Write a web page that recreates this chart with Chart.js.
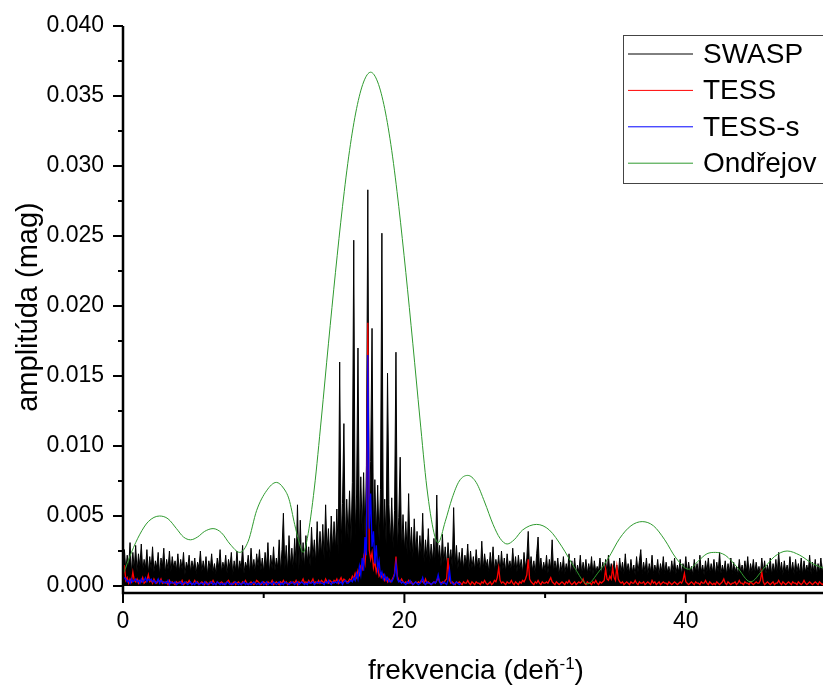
<!DOCTYPE html>
<html>
<head>
<meta charset="utf-8">
<script src="https://cdn.jsdelivr.net/npm/chart.js"></script>
<style>
  body { margin: 0; background: #fff; }
  canvas { display: block; }
</style>
</head>
<body>
<canvas id="chart" width="823" height="686"></canvas>
<script>
// amplitudes in mmag, sampled every 0.1 d^-1 starting at 0
var freqStep = 0.1;

var swaspAmp = [
  1.4, 2.6, 1.1, 2.2, 1.3, 3.1, 0.9, 2.4, 1.2, 2.9,
  1.0, 2.3, 1.4, 3.0, 1.1, 1.9, 1.3, 2.6, 0.9, 2.1,
  1.2, 2.8, 1.0, 1.8, 1.3, 2.4, 0.8, 2.0, 1.4, 2.7,
  0.9, 1.9, 1.2, 2.5, 1.0, 2.1, 1.3, 1.8, 1.1, 2.3,
  1.0, 1.9, 1.2, 2.4, 0.8, 1.7, 1.3, 2.2, 1.0, 1.8,
  1.2, 2.0, 0.9, 1.7, 1.3, 2.5, 1.0, 1.8, 1.1, 2.1,
  0.8, 1.8, 1.2, 2.3, 1.0, 1.6, 0.9, 2.0, 1.3, 2.6,
  1.0, 1.7, 1.2, 2.2, 0.9, 1.9, 1.3, 2.4, 0.8, 1.8,
  1.1, 2.5, 1.0, 1.8, 1.2, 2.9, 0.9, 1.7, 1.3, 2.2,
  0.9, 2.7, 1.2, 1.9, 1.0, 2.3, 1.4, 2.6, 1.1, 2.0,
  1.0, 2.4, 1.3, 3.1, 0.9, 2.2, 1.2, 2.8, 1.1, 2.0,
  1.3, 3.3, 1.0, 2.6, 5.2, 1.2, 2.9, 1.0, 3.6, 1.4,
  2.7, 1.2, 3.4, 1.5, 5.8, 1.1, 4.7, 1.4, 3.1, 1.3,
  3.6, 1.7, 2.8, 1.4, 4.2, 2.0, 3.3, 1.6, 4.6, 1.9,
  3.9, 2.2, 4.4, 1.8, 5.8, 2.4, 4.1, 2.0, 5.0, 2.5,
  4.6, 2.6, 5.5, 2.2, 16.0, 3.0, 5.9, 11.6, 2.8, 6.2,
  3.4, 6.8, 3.0, 7.4, 24.7, 3.6, 6.5, 17.0, 3.3, 7.8,
  3.8, 8.1, 3.5, 8.6, 28.3, 4.0, 8.9, 18.4, 3.7, 7.6,
  3.5, 7.2, 3.2, 6.9, 25.2, 3.4, 6.2, 3.0, 15.2, 5.8,
  3.0, 6.3, 2.7, 5.4, 16.7, 2.6, 4.9, 9.2, 2.4, 5.1,
  2.5, 4.6, 2.2, 6.6, 2.4, 4.2, 2.0, 4.8, 2.3, 3.9,
  1.8, 3.6, 2.1, 5.2, 1.7, 3.3, 2.0, 4.1, 1.6, 3.0,
  1.8, 3.4, 1.5, 6.5, 1.9, 2.9, 1.4, 3.7, 1.6, 2.8,
  1.4, 3.1, 1.7, 2.6, 1.3, 5.6, 1.5, 2.9, 1.2, 2.4,
  1.4, 2.7, 1.2, 2.2, 1.5, 3.0, 1.1, 2.5, 1.3, 2.1,
  1.1, 2.6, 1.4, 2.0, 1.0, 3.2, 1.2, 2.3, 1.4, 1.9,
  1.0, 2.4, 1.3, 2.8, 1.1, 1.9, 1.3, 2.2, 1.0, 2.5,
  1.2, 2.0, 1.0, 2.3, 1.3, 1.8, 1.1, 2.7, 1.2, 2.1,
  1.0, 2.2, 1.2, 1.9, 0.9, 2.4, 1.3, 2.0, 3.9, 1.0,
  2.1, 1.1, 1.8, 0.9, 2.3, 3.5, 1.2, 2.0, 1.0, 1.7,
  1.1, 2.2, 0.9, 1.9, 1.2, 3.3, 1.0, 1.8, 1.1, 2.0,
  0.8, 1.7, 1.0, 2.1, 0.9, 1.6, 1.1, 2.3, 0.8, 1.8,
  1.0, 2.0, 0.8, 1.5, 1.0, 2.2, 0.9, 1.7, 1.0, 1.9,
  0.9, 1.6, 1.0, 2.1, 0.8, 1.8, 1.0, 1.4, 1.1, 2.0,
  0.8, 1.7, 1.0, 1.9, 0.9, 2.2, 1.0, 1.6, 0.8, 1.8,
  1.0, 1.5, 0.8, 2.0, 1.0, 1.7, 0.9, 2.3, 1.0, 1.6,
  0.9, 1.9, 1.0, 1.5, 0.8, 2.1, 1.0, 1.8, 2.6, 0.9,
  1.7, 1.0, 2.0, 0.8, 1.6, 1.0, 2.2, 0.9, 1.5, 1.0,
  1.9, 0.8, 1.6, 1.0, 2.1, 0.9, 1.7, 1.0, 1.4, 0.8,
  1.8, 1.0, 2.0, 0.9, 1.5, 1.0, 1.9, 0.8, 1.6, 1.0,
  2.1, 0.9, 1.7, 1.0, 1.4, 0.8, 1.9, 1.0, 1.6, 0.9,
  2.2, 1.0, 1.5, 0.8, 1.8, 1.0, 2.0, 0.9, 1.6, 1.0,
  1.9, 0.8, 1.7, 1.0, 2.4, 0.9, 1.5, 1.0, 1.8, 0.8,
  1.6, 1.0, 2.0, 0.9, 1.7, 1.0, 1.4, 0.8, 1.9, 1.0,
  1.5, 0.9, 1.8, 1.0, 2.1, 0.8, 1.6, 1.0, 1.9, 0.9,
  1.7, 1.0, 1.4, 0.8, 2.0, 1.0, 1.8, 0.9, 1.5, 1.0,
  2.0, 0.8, 1.6, 1.0, 1.9, 0.9, 2.4, 1.0, 1.7, 0.8,
  1.8, 1.0, 1.5, 0.9, 2.1, 1.0, 1.7, 0.8, 1.9, 1.0,
  1.6, 0.9, 2.0, 0.8, 1.8, 1.0, 1.5, 1.0, 2.2, 0.9,
  1.7, 1.0, 1.9, 0.8, 1.6, 1.0, 2.0, 0.9, 1.8, 1.0,
  1.6
];

var tessAmp = [
  0.3, 1.5, 0.4, 0.6, 0.2, 0.5, 0.3, 1.0, 0.4, 0.3,
  0.5, 0.2, 0.4, 0.3, 0.6, 0.2, 0.3, 0.4, 0.8, 0.3,
  0.4, 0.2, 0.5, 0.3, 0.2, 0.4, 0.3, 0.5, 0.2, 0.3,
  0.2, 0.3, 0.1, 0.4, 0.2, 0.3, 0.2, 0.1, 0.3, 0.2,
  0.3, 0.2, 0.4, 0.1, 0.2, 0.3, 0.2, 0.4, 0.2, 0.1,
  0.2, 0.4, 0.2, 0.3, 0.1, 0.2, 0.3, 0.2, 0.1, 0.3,
  0.2, 0.1, 0.3, 0.2, 0.4, 0.2, 0.1, 0.3, 0.2, 0.2,
  0.3, 0.2, 0.1, 0.2, 0.3, 0.4, 0.2, 0.1, 0.2, 0.3,
  0.1, 0.2, 0.3, 0.2, 0.1, 0.3, 0.2, 0.4, 0.2, 0.1,
  0.2, 0.3, 0.2, 0.1, 0.2, 0.4, 0.3, 0.2, 0.1, 0.2,
  0.3, 0.2, 0.1, 0.3, 0.2, 0.2, 0.4, 0.1, 0.2, 0.3,
  0.2, 0.1, 0.3, 0.2, 0.4, 0.2, 0.3, 0.1, 0.2, 0.3,
  0.2, 0.3, 0.2, 0.4, 0.1, 0.3, 0.2, 0.3, 0.5, 0.2,
  0.3, 0.2, 0.4, 0.2, 0.3, 0.5, 0.2, 0.3, 0.2, 0.4,
  0.2, 0.4, 0.3, 0.2, 0.5, 0.3, 0.2, 0.4, 0.3, 0.2,
  0.4, 0.3, 0.5, 0.2, 0.4, 0.6, 0.3, 0.5, 0.4, 0.3,
  0.3, 0.5, 0.4, 0.7, 0.5, 0.9, 0.6, 1.1, 0.8, 1.4,
  1.2, 2.1, 1.6, 3.0, 18.8, 2.6, 1.9, 2.4, 1.3, 1.8,
  1.0, 1.4, 0.7, 0.9, 0.6, 0.8, 0.4, 0.6, 0.3, 0.5,
  0.3, 0.4, 0.6, 0.9, 2.1, 0.7, 0.4, 0.3, 0.5, 0.3,
  0.2, 0.3, 0.2, 0.4, 0.2, 0.3, 0.1, 0.2, 0.3, 0.2,
  0.3, 0.2, 0.4, 0.3, 0.2, 0.5, 0.2, 0.3, 0.2, 0.1,
  0.2, 0.3, 0.2, 0.4, 0.6, 0.3, 0.2, 0.3, 0.2, 0.4,
  0.5, 2.0, 0.4, 0.2, 0.3, 0.2, 0.1, 0.3, 0.2, 0.3,
  0.2, 0.1, 0.3, 0.2, 0.2, 0.4, 0.2, 0.1, 0.3, 0.2,
  0.1, 0.3, 0.2, 0.2, 0.1, 0.3, 0.2, 0.4, 0.2, 0.1,
  0.2, 0.3, 0.1, 0.2, 0.4, 0.3, 0.6, 1.3, 0.4, 0.2,
  0.3, 0.2, 0.1, 0.3, 0.2, 0.2, 0.4, 0.2, 0.1, 0.3,
  0.2, 0.1, 0.3, 0.2, 0.4, 0.3, 0.5, 0.8, 1.9, 0.5,
  0.3, 0.2, 0.1, 0.3, 0.2, 0.4, 0.2, 0.1, 0.3, 0.2,
  0.2, 0.3, 0.2, 0.4, 0.6, 0.3, 0.2, 0.1, 0.3, 0.2,
  0.1, 0.2, 0.3, 0.2, 0.1, 0.3, 0.2, 0.4, 0.2, 0.1,
  0.2, 0.3, 0.1, 0.2, 0.3, 0.2, 0.3, 0.5, 0.2, 0.1,
  0.3, 0.2, 0.2, 0.1, 0.3, 0.2, 0.4, 0.2, 0.1, 0.3,
  0.2, 0.3, 0.4, 1.2, 0.5, 0.4, 0.7, 0.5, 1.3, 0.6,
  0.4, 1.4, 0.5, 0.3, 0.2, 0.3, 0.1, 0.2, 0.3, 0.2,
  0.1, 0.3, 0.2, 0.2, 0.4, 0.2, 0.1, 0.3, 0.2, 0.2,
  0.3, 0.1, 0.2, 0.3, 0.2, 0.1, 0.4, 0.2, 0.3, 0.1,
  0.2, 0.3, 0.1, 0.2, 0.3, 0.2, 0.2, 0.1, 0.3, 0.2,
  0.1, 0.2, 0.3, 0.2, 0.1, 0.2, 0.3, 0.2, 0.4, 0.9,
  0.3, 0.2, 0.1, 0.2, 0.3, 0.2, 0.1, 0.3, 0.2, 0.2,
  0.1, 0.3, 0.2, 0.2, 0.4, 0.2, 0.1, 0.3, 0.2, 0.1,
  0.2, 0.1, 0.3, 0.2, 0.1, 0.2, 0.3, 0.5, 0.2, 0.1,
  0.3, 0.2, 0.1, 0.2, 0.2, 0.3, 0.1, 0.2, 0.4, 0.2,
  0.2, 0.1, 0.3, 0.2, 0.2, 0.1, 0.3, 0.2, 0.1, 0.2,
  0.3, 0.2, 0.2, 0.4, 1.0, 0.3, 0.1, 0.2, 0.3, 0.2,
  0.1, 0.2, 0.3, 0.1, 0.2, 0.2, 0.4, 0.2, 0.1, 0.3,
  0.2, 0.1, 0.2, 0.3, 0.2, 0.1, 0.3, 0.2, 0.2, 0.1,
  0.3, 0.2, 0.1, 0.2, 0.4, 0.2, 0.1, 0.2, 0.3, 0.2,
  0.1, 0.2, 0.3, 0.2, 0.1, 0.3, 0.2, 0.1, 0.2, 0.3,
  0.2
];

var tessSAmp = [
  0.4, 0.6, 0.5, 0.3, 0.4, 0.2, 0.5, 0.3, 0.4, 0.5,
  0.3, 0.4, 0.2, 0.5, 0.3, 0.4, 0.6, 0.3, 0.5, 0.4,
  0.5, 0.3, 0.4, 0.2, 0.3, 0.5, 0.2, 0.4, 0.3, 0.2,
  0.3, 0.2, 0.4, 0.1, 0.3, 0.2, 0.2, 0.3, 0.1, 0.2,
  0.2, 0.3, 0.1, 0.2, 0.3, 0.2, 0.1, 0.2, 0.3, 0.1,
  0.2, 0.1, 0.3, 0.2, 0.1, 0.2, 0.2, 0.1, 0.3, 0.2,
  0.1, 0.2, 0.2, 0.3, 0.1, 0.2, 0.1, 0.3, 0.2, 0.1,
  0.2, 0.1, 0.2, 0.1, 0.3, 0.2, 0.1, 0.2, 0.1, 0.2,
  0.3, 0.2, 0.1, 0.2, 0.1, 0.2, 0.3, 0.1, 0.2, 0.1,
  0.2, 0.1, 0.2, 0.3, 0.2, 0.1, 0.2, 0.1, 0.2, 0.3,
  0.1, 0.2, 0.3, 0.1, 0.2, 0.2, 0.1, 0.3, 0.2, 0.1,
  0.2, 0.3, 0.1, 0.2, 0.1, 0.3, 0.2, 0.2, 0.1, 0.2,
  0.3, 0.2, 0.1, 0.2, 0.3, 0.1, 0.2, 0.3, 0.2, 0.1,
  0.2, 0.1, 0.3, 0.2, 0.2, 0.3, 0.1, 0.2, 0.3, 0.2,
  0.3, 0.2, 0.2, 0.1, 0.3, 0.2, 0.4, 0.2, 0.1, 0.3,
  0.2, 0.3, 0.2, 0.4, 0.2, 0.3, 0.1, 0.3, 0.4, 0.2,
  0.2, 0.3, 0.4, 0.3, 0.6, 0.4, 0.9, 0.5, 1.4, 0.8,
  2.0, 1.1, 3.5, 2.2, 16.5, 4.1, 6.6, 2.8, 3.9, 1.6,
  2.9, 1.2, 1.8, 0.7, 1.0, 0.5, 0.8, 0.4, 0.6, 0.3,
  0.4, 0.3, 0.5, 0.8, 1.6, 0.5, 0.3, 0.4, 0.2, 0.3,
  0.2, 0.1, 0.3, 0.2, 0.4, 0.2, 0.1, 0.2, 0.3, 0.2,
  0.1, 0.2, 0.3, 0.6, 0.2, 0.1, 0.3, 0.2, 0.2, 0.1,
  0.2, 0.3, 0.2, 0.4, 0.8, 0.3, 0.1, 0.2, 0.3, 0.2,
  0.1, 0.4, 1.2, 0.3, 0.2, 0.1, 0.2, 0.3, 0.2, 0.1,
  0.2
];

// Ondrejov spectrum is smooth, read at its turning points and flanks
var ondrejovFreq = [
  0, 0.6, 1.2, 1.8, 2.6, 3.2, 3.8, 4.3, 4.8, 5.3, 5.8, 6.4, 7.0, 7.6, 8.3, 8.9, 9.5, 10.2, 10.9,
  11.4, 11.8, 12.2, 12.5, 12.8, 13.1, 13.6, 14.1, 14.6, 15.1, 15.6, 16.1, 16.6, 17.1, 17.6,
  18.1, 18.6, 19.1, 19.6, 20.1, 20.6, 21.1, 21.6, 22.1, 22.4, 22.9, 23.4, 23.9, 24.5, 25.1,
  25.7, 26.3, 26.8, 27.3, 27.8, 28.4, 29.4, 30.3, 31.2, 32.1, 33.0, 33.8, 34.5, 35.3, 36.1,
  36.9, 37.7, 38.5, 39.3, 40.2, 40.9, 41.5, 42.1, 42.8, 43.6, 44.6, 45.5, 46.3, 47.2, 48.1,
  49.0, 50.0
];
var ondrejovAmp = [
  0.8, 2.4, 3.7, 4.6, 5.0, 4.8, 4.1, 3.5, 3.3, 3.5, 3.9, 4.1, 3.8, 3.0, 2.4, 3.2, 5.4, 6.8, 7.4,
  7.0, 6.2, 4.4, 3.2, 2.4, 3.4, 7.0, 12.0, 17.3, 22.4, 27.1, 31.1, 34.1, 36.0, 36.7,
  36.0, 34.1, 31.1, 27.1, 22.4, 17.3, 12.0, 7.0, 3.8, 3.1, 4.6, 6.3, 7.5, 7.9, 7.4,
  6.0, 4.4, 3.4, 3.0, 3.3, 4.0, 4.4, 4.0, 2.8, 1.3, 0.15, 1.0, 2.0, 3.4, 4.3,
  4.6, 4.3, 3.3, 2.0, 1.2, 1.8, 2.3, 2.4, 2.2, 1.4, 0.3, 1.2, 2.1, 2.5, 2.2,
  1.6, 1.2
];

var xTickValues = [0, 20, 40];
var xMinorValues = [10, 30, 50];
var yTickValues = [0, 0.005, 0.01, 0.015, 0.02, 0.025, 0.03, 0.035, 0.04];
var yMinorValues = [0.0025, 0.0075, 0.0125, 0.0175, 0.0225, 0.0275, 0.0325, 0.0375];

var seriesNames = ['SWASP', 'TESS', 'TESS-s', 'Ondřejov'];
var seriesColors = ['#000000', '#ff0000', '#0000ff', '#2f9a2f'];

var FONT = "'Liberation Sans', Arial, sans-serif";

function gridPoints(values) {
  return values.map(function (v, i) {
    return { x: Math.round(i * freqStep * 10) / 10, y: v / 1000 };
  });
}

var ondrejovPoints = ondrejovFreq.map(function (f, i) {
  return { x: f, y: ondrejovAmp[i] / 1000 };
});

// axes, ticks, titles and legend drawn the Origin way
var originDecor = {
  id: 'originDecor',
  afterDraw: function (chart) {
    var ctx = chart.ctx;
    var area = chart.chartArea;
    var xs = chart.scales.x;
    var ys = chart.scales.y;
    ctx.save();
    ctx.strokeStyle = '#000';
    ctx.lineWidth = 2.5;
    ctx.beginPath();
    ctx.moveTo(area.left, area.top);
    ctx.lineTo(area.left, area.bottom + 1.25);
    ctx.moveTo(area.left - 1.25, area.bottom);
    ctx.lineTo(area.right, area.bottom);
    ctx.stroke();

    ctx.lineWidth = 2;
    ctx.beginPath();
    yTickValues.forEach(function (v) {
      var y = ys.getPixelForValue(v);
      ctx.moveTo(area.left - 10, y);
      ctx.lineTo(area.left, y);
    });
    yMinorValues.forEach(function (v) {
      var y = ys.getPixelForValue(v);
      ctx.moveTo(area.left - 5, y);
      ctx.lineTo(area.left, y);
    });
    xTickValues.forEach(function (v) {
      var x = xs.getPixelForValue(v);
      ctx.moveTo(x, area.bottom);
      ctx.lineTo(x, area.bottom + 10);
    });
    xMinorValues.forEach(function (v) {
      if (v > xs.max) return;
      var x = xs.getPixelForValue(v);
      ctx.moveTo(x, area.bottom);
      ctx.lineTo(x, area.bottom + 5);
    });
    ctx.stroke();

    // axis titles
    ctx.fillStyle = '#000';
    ctx.textBaseline = 'alphabetic';
    ctx.font = '28px ' + FONT;
    var main = 'frekvencia (deň';
    var w1 = ctx.measureText(main).width;
    var w3 = ctx.measureText(')').width;
    ctx.font = '17px ' + FONT;
    var w2 = ctx.measureText('-1').width;
    var x0 = 476 - (w1 + w2 + w3) / 2;
    ctx.font = '28px ' + FONT;
    ctx.textAlign = 'left';
    ctx.fillText(main, x0, 679);
    ctx.font = '17px ' + FONT;
    ctx.fillText('-1', x0 + w1, 669);
    ctx.font = '28px ' + FONT;
    ctx.fillText(')', x0 + w1 + w2, 679);

    ctx.save();
    ctx.translate(37, 307);
    ctx.rotate(-Math.PI / 2);
    ctx.textAlign = 'center';
    ctx.font = '29px ' + FONT;
    ctx.fillText('amplitúda (mag)', 0, 0);
    ctx.restore();

    // legend box
    ctx.fillStyle = '#fff';
    ctx.fillRect(623.5, 35.5, 260, 148);
    ctx.strokeStyle = '#444';
    ctx.lineWidth = 1;
    ctx.strokeRect(623.5, 35.5, 260, 148);
    ctx.font = '28px ' + FONT;
    ctx.textBaseline = 'middle';
    ctx.textAlign = 'left';
    seriesNames.forEach(function (name, i) {
      var y = 54 + i * 36.4;
      ctx.strokeStyle = seriesColors[i];
      ctx.beginPath();
      ctx.moveTo(628, y);
      ctx.lineTo(693, y);
      ctx.stroke();
      ctx.fillStyle = '#000';
      ctx.fillText(name, 703, y + 1);
    });
    ctx.restore();
  }
};

var tickFont = { family: FONT, size: 23 };

var chart = new Chart(document.getElementById('chart'), {
  type: 'line',
  data: {
    datasets: [
      // dense periodogram: thousands of spikes read as a solid black band, so fill under it
      { label: seriesNames[0], data: gridPoints(swaspAmp), borderColor: seriesColors[0], order: 4,
        borderWidth: 1, fill: 'origin', backgroundColor: '#000000' },
      { label: seriesNames[1], data: gridPoints(tessAmp), borderColor: seriesColors[1], order: 3,
        borderWidth: 1.3 },
      { label: seriesNames[2], data: gridPoints(tessSAmp), borderColor: seriesColors[2], order: 2,
        borderWidth: 1.3 },
      { label: seriesNames[3], data: ondrejovPoints, borderColor: seriesColors[3], order: 1,
        cubicInterpolationMode: 'monotone' }
    ]
  },
  options: {
    responsive: false,
    animation: false,
    devicePixelRatio: 1,
    layout: { padding: { top: 26, left: 0, right: 0, bottom: 0 } },
    elements: {
      point: { radius: 0 },
      line: { borderWidth: 1, tension: 0 }
    },
    plugins: {
      legend: { display: false },
      tooltip: { enabled: false },
      filler: { propagate: false }
    },
    scales: {
      x: {
        type: 'linear',
        min: 0,
        max: 49.75,
        afterBuildTicks: function (scale) {
          scale.ticks = xTickValues.map(function (v) { return { value: v }; });
        },
        afterFit: function (scale) { scale.height = 93; },
        grid: { display: false, drawTicks: true, tickLength: 10 },
        border: { display: false },
        ticks: {
          padding: 5,
          color: '#000',
          font: tickFont,
          maxRotation: 0,
          autoSkip: false,
          callback: function (v) { return String(v); }
        }
      },
      y: {
        min: -0.0005,
        max: 0.04,
        afterBuildTicks: function (scale) {
          scale.ticks = yTickValues.map(function (v) { return { value: v }; });
        },
        afterFit: function (scale) { scale.width = 123; },
        grid: { display: false, drawTicks: true, tickLength: 10 },
        border: { display: false },
        ticks: {
          padding: 9,
          color: '#000',
          font: tickFont,
          autoSkip: false,
          callback: function (v) { return v.toFixed(3); }
        }
      }
    }
  },
  plugins: [originDecor]
});
</script>
</body>
</html>
